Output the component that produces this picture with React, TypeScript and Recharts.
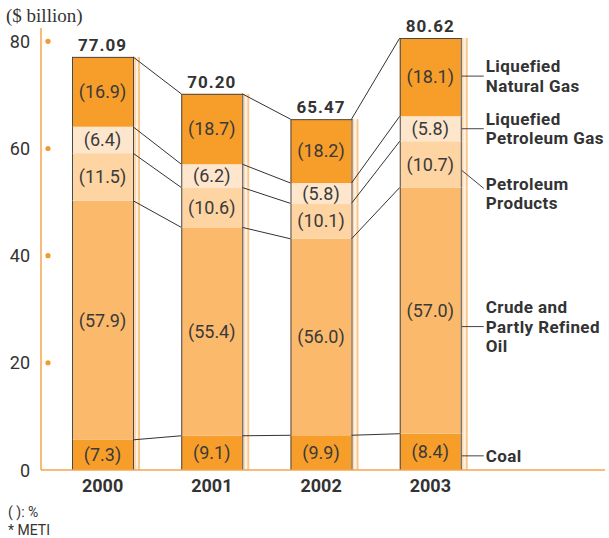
import { BarChart, Bar, XAxis, YAxis, LabelList } from "recharts";

const years = ["2000", "2001", "2002", "2003"];
const totals = [77.09, 70.2, 65.47, 80.62];
// shares in %
const coalPct = [7.3, 9.1, 9.9, 8.4];
const crudePct = [57.9, 55.4, 56.0, 57.0];
const productsPct = [11.5, 10.6, 10.1, 10.7];
const lpgPct = [6.4, 6.2, 5.8, 5.8];
const lngPct = [16.9, 18.7, 18.2, 18.1];
const yTicks = [0, 20, 40, 60, 80];

const data = years.map((year, i) => ({
  year,
  total: totals[i],
  coal: (totals[i] * coalPct[i]) / 100,
  crude: (totals[i] * crudePct[i]) / 100,
  products: (totals[i] * productsPct[i]) / 100,
  lpg: (totals[i] * lpgPct[i]) / 100,
  lng: (totals[i] * lngPct[i]) / 100,
  coalPct: coalPct[i],
  crudePct: crudePct[i],
  productsPct: productsPct[i],
  lpgPct: lpgPct[i],
  lngPct: lngPct[i],
}));

const series = [
  { key: "coal", fill: "#F79E2A", label: ["Coal"], dy: 4, diag: false },
  { key: "crude", fill: "#FBB96C", label: ["Crude and", "Partly Refined", "Oil"], dy: 16, diag: false },
  { key: "products", fill: "#FDD4A2", label: ["Petroleum", "Products"], dy: 6, diag: true },
  { key: "lpg", fill: "#FEE6CC", label: ["Liquefied", "Petroleum Gas"], dy: 0, diag: false },
  { key: "lng", fill: "#F79E2A", label: ["Liquefied", "Natural Gas"], dy: -1, diag: false },
];

const W = 609;
const H = 538;
const Y_W = 41;
const M_R = 4;
const PAD_L = 7;
const PAD_R = 120;
const STEP = (W - Y_W - M_R - PAD_L - PAD_R) / years.length;

const FONT = "Roboto, 'Liberation Sans', sans-serif";
const INK = "#333";
const ORANGE = "#F6A54C";

function makeShape(si: number) {
  const s = series[si];
  return (props: any) => {
    const { x, y, width, height, index, payload } = props;
    const right = x + width;
    const bottom = y + height;
    const parts: any[] = [];
    parts.push(<rect key="r" x={x} y={y} width={width} height={height} fill={s.fill} />);
    // shadow stripe
    parts.push(<rect key="s1" x={right + 1} y={y} width={2} height={height} fill="#FBD6AE" />);
    parts.push(<rect key="s2" x={right + 3} y={y} width={2} height={height} fill="#FFF1E2" />);
    parts.push(<rect key="s3" x={right + 5} y={y} width={2} height={height} fill="#FAC68C" />);
    parts.push(<line key="l" x1={x + 0.5} x2={x + 0.5} y1={y} y2={bottom} stroke="#4a4a4a" />);
    parts.push(<line key="rr" x1={right + 0.5} x2={right + 0.5} y1={y} y2={bottom} stroke="#4a4a4a" />);

    const isTop = si === series.length - 1;
    if (isTop) {
      parts.push(<line key="t" x1={x} x2={right + 1} y1={y + 0.5} y2={y + 0.5} stroke="#4a4a4a" />);
      const next = data[index + 1];
      if (next) {
        const cumBelow = series.slice(0, si).reduce((a, t) => a + (payload as any)[t.key], 0);
        const ppu = height / payload[s.key];
        const py = (v: number) => bottom + (cumBelow - v) * ppu;
        for (let k = series.length; k >= 1; k--) {
          const a = series.slice(0, k).reduce((acc, t) => acc + (payload as any)[t.key], 0);
          const b = series.slice(0, k).reduce((acc, t) => acc + (next as any)[t.key], 0);
          parts.push(
            <line key={"c" + k} x1={right} y1={py(a)} x2={x + STEP} y2={py(b)} stroke="#333" strokeWidth={1} />
          );
        }
      }
    }

    if (index === data.length - 1) {
      const mid = y + height / 2;
      const ly = mid + s.dy;
      const lx = right + 25;
      const gap = 19.5;
      if (s.diag) {
        parts.push(<line key="ld" x1={right + 1} y1={ly} x2={right + 23} y2={ly + 18} stroke="#444" />);
      } else {
        parts.push(<line key="lh" x1={right + 1} y1={ly} x2={right + 23} y2={ly} stroke="#444" />);
      }
      const cy = s.diag ? ly + 23 : ly;
      s.label.forEach((t, j) => {
        parts.push(
          <text
            key={"lt" + j}
            x={lx}
            y={cy + (j - (s.label.length - 1) / 2) * gap}
            dominantBaseline="central"
            fontFamily={FONT}
            fontWeight={700}
            fontSize={17}
            letterSpacing={0.4}
            fill={INK}
          >
            {t}
          </text>
        );
      });
    }
    return <g>{parts}</g>;
  };
}

const YTick = (props: any) => {
  const { x, y, payload } = props;
  return (
    <g>
      <text x={x} y={y} textAnchor="end" dominantBaseline="central" fontFamily={FONT} fontSize={18} fill={INK}>
        {payload.value}
      </text>
      {payload.value > 0 && <circle cx={x + 18} cy={y} r={2.6} fill="#F39A2E" />}
    </g>
  );
};

const noteStyle = {
  position: "absolute" as const,
  left: 8,
  fontFamily: FONT,
  fontSize: 14,
  lineHeight: "15px",
  color: INK,
};

export default function App() {
  return (
    <div style={{ position: "absolute", left: 0, top: 0, width: W, height: H, background: "#fff" }}>
      <div
        style={{
          position: "absolute",
          left: 6,
          top: 5,
          fontFamily: "'Liberation Serif', serif",
          fontSize: 19,
          color: INK,
        }}
      >
        ($ billion)
      </div>
      <BarChart
        width={W}
        height={H}
        data={data}
        margin={{ top: 28, right: M_R, bottom: 38, left: 0 }}
        barSize={61}
        style={{ fontFamily: FONT }}
      >
        <XAxis
          dataKey="year"
          axisLine={{ stroke: ORANGE, strokeWidth: 1.5 }}
          tickLine={false}
          tickSize={0}
          tickMargin={9}
          padding={{ left: PAD_L, right: PAD_R }}
          tick={{ fontSize: 18, fontWeight: 700, fill: INK, fontFamily: FONT }}
          height={30}
        />
        <YAxis
          width={Y_W}
          domain={[0, 80]}
          ticks={yTicks}
          padding={{ top: 10 }}
          axisLine={{ stroke: ORANGE, strokeWidth: 1.5 }}
          tickLine={false}
          tickSize={0}
          tickMargin={11}
          tick={<YTick />}
        />
        {series.map((s, si) => (
          <Bar
            key={s.key}
            dataKey={s.key}
            stackId="a"
            fill={s.fill}
            isAnimationActive={false}
            shape={makeShape(si)}
          >
            <LabelList
              dataKey={s.key + "Pct"}
              position="center"
              formatter={(v: any) => `(${Number(v).toFixed(1)})`}
              style={{ fontSize: 18, fill: "#3a3a3a", fontFamily: FONT }}
            />
            {si === series.length - 1 && (
              <LabelList
                dataKey="total"
                position="top"
                offset={6}
                formatter={(v: any) => Number(v).toFixed(2)}
                style={{ fontSize: 17, fontWeight: 700, fill: INK, fontFamily: FONT, letterSpacing: 1 }}
              />
            )}
          </Bar>
        ))}
      </BarChart>
      <div style={{ ...noteStyle, top: 505 }}>( ): %</div>
      <div style={{ ...noteStyle, top: 523 }}>* METI</div>
    </div>
  );
}
